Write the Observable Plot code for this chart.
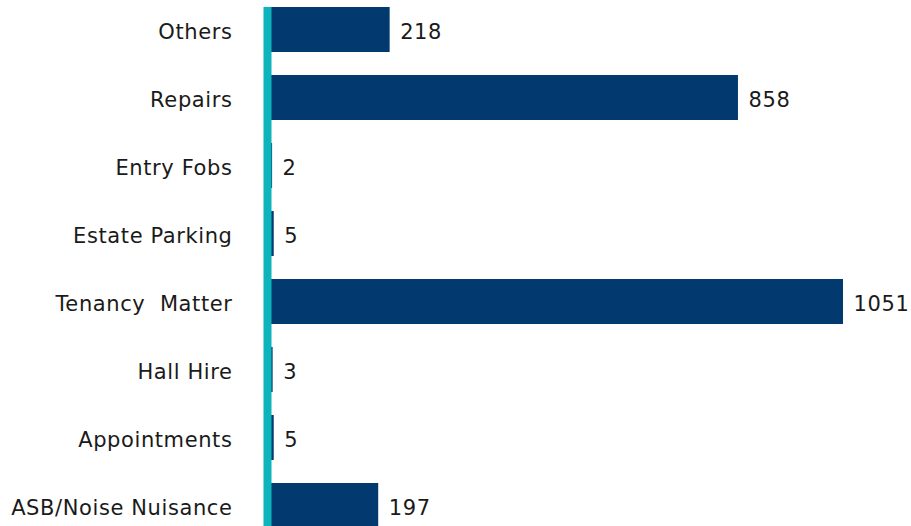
<!DOCTYPE html>
<html>
<head>
<meta charset="utf-8">
<script src="https://cdn.jsdelivr.net/npm/d3@7"></script>
<script src="https://cdn.jsdelivr.net/npm/@observablehq/plot@0.6"></script>
<style>
  html, body { margin: 0; padding: 0; background: #fff; overflow: hidden; }
  #chart svg { display: block; }
  #chart svg text { letter-spacing: 0.6px; }
</style>
</head>
<body>
<div id="chart"></div>
<script>
const categories = ["Others", "Repairs", "Entry Fobs", "Estate Parking", "Tenancy  Matter", "Hall Hire", "Appointments", "ASB/Noise Nuisance"];
const values = [218, 858, 2, 5, 1051, 3, 5, 197];

const data = categories.map((c, i) => ({category: c, value: values[i]}));

const chart = Plot.plot({
  width: 911,
  height: 530,
  marginTop: 7,
  marginBottom: 2,
  marginLeft: 271,
  marginRight: 68,
  style: {fontFamily: "'DejaVu Sans', sans-serif", fontSize: "21px", color: "#1a1a1a", background: "#fff"},
  x: {domain: [0, 1051], axis: null},
  y: {domain: categories, padding: 0.34, paddingOuter: 0, label: null},
  marks: [
    Plot.barX(data, {x: "value", y: "category", fill: "#023a70"}),
    Plot.text(data, {x: "value", y: "category", text: d => String(d.value), textAnchor: "start", dx: 10, dy: 2, fontSize: 21, fill: "#1a1a1a"}),
    Plot.axisY({tickSize: 0, tickPadding: 39, dy: 2, fontSize: 21, label: null}),
    Plot.ruleX([0], {stroke: "#0db4bb", strokeWidth: 8, dx: -4})
  ]
});
document.getElementById("chart").appendChild(chart);
</script>
</body>
</html>
